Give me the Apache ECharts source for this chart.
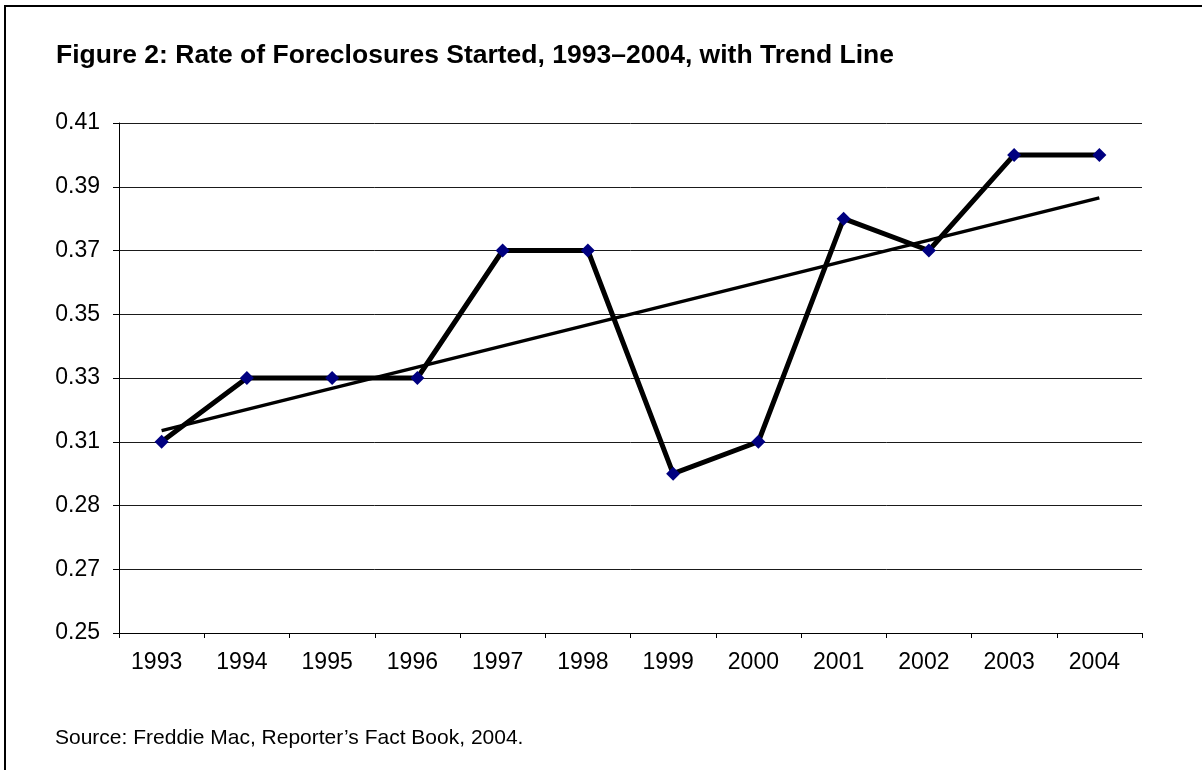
<!DOCTYPE html>
<html>
<head>
<meta charset="utf-8">
<title>Rate of Foreclosures Started, 1993–2004</title>
<script src="https://cdn.jsdelivr.net/npm/echarts@6/dist/echarts.min.js"></script>
<style>
  html, body { margin: 0; padding: 0; background: #ffffff; }
  #chart { width: 1202px; height: 770px; }
</style>
</head>
<body>
<div id="chart"></div>
<script>
// Years on the horizontal axis
const years = ['1993', '1994', '1995', '1996', '1997', '1998', '1999', '2000', '2001', '2002', '2003', '2004'];

// Rate of foreclosures started, per year
const foreclosureRates = [0.31, 0.33, 0.33, 0.33, 0.37, 0.37, 0.30, 0.31, 0.38, 0.37, 0.40, 0.40];

// Linear trend line, first and last year
const trendYears = ['1993', '2004'];
const trendValues = [0.3135, 0.3865];

// Gridline values on the rate scale and the labels printed beside them
const yTickValues = [0.25, 0.27, 0.29, 0.31, 0.33, 0.35, 0.37, 0.39, 0.41];
const yTickLabels = ['0.25', '0.27', '0.28', '0.31', '0.33', '0.35', '0.37', '0.39', '0.41'];

const titleText = 'Figure 2: Rate of Foreclosures Started, 1993–2004, with Trend Line';
const sourceText = 'Source: Freddie Mac, Reporter’s Fact Book, 2004.';

const FONT = 'Arial, "Liberation Sans", Helvetica, sans-serif';

const chart = echarts.init(document.getElementById('chart'), null, { renderer: 'canvas' });

const option = {
  backgroundColor: '#ffffff',
  animation: false,
  title: {
    text: titleText,
    left: 56,
    top: 42,
    padding: 0,
    textStyle: { fontFamily: FONT, fontSize: 26.5, fontWeight: 'bold', color: '#000000' }
  },
  graphic: [
    {
      // frame around the figure
      type: 'rect',
      silent: true,
      shape: { x: 5, y: 6, width: 1400, height: 1000 },
      style: { fill: 'none', stroke: '#000000', lineWidth: 2 }
    },
    {
      type: 'text',
      silent: true,
      left: 55,
      top: 728,
      style: { text: sourceText, font: '21px ' + FONT, fill: '#000000' }
    }
  ],
  grid: { left: 119, right: 60, top: 123, bottom: 137, containLabel: false },
  xAxis: {
    type: 'category',
    data: years,
    boundaryGap: true,
    axisLine: { show: true, lineStyle: { color: '#000000', width: 1 } },
    axisTick: { show: true, alignWithLabel: false, length: 5, lineStyle: { color: '#000000', width: 1 } },
    axisLabel: {
      show: true, interval: 0, margin: 18,
      fontFamily: FONT, fontSize: 23, color: '#000000',
      padding: [0, 10, 0, 0]
    },
    splitLine: { show: false }
  },
  yAxis: [
    {
      // gridline axis: one step per labelled gridline
      type: 'value',
      min: 0,
      max: yTickValues.length - 1,
      interval: 1,
      axisLine: { show: true, lineStyle: { color: '#000000', width: 1 } },
      axisTick: { show: true, inside: false, length: 6, lineStyle: { color: '#000000', width: 1 } },
      axisLabel: {
        show: true, margin: 19,
        fontFamily: FONT, fontSize: 23, color: '#000000',
        formatter: function (v) { return yTickLabels[Math.round(v)]; }
      },
      splitLine: { show: true, lineStyle: { color: '#1a1a1a', width: 1 } }
    },
    {
      // rate scale used by the series
      type: 'value',
      min: yTickValues[0],
      max: yTickValues[yTickValues.length - 1],
      show: false,
      splitLine: { show: false }
    }
  ],
  series: [
    {
      name: 'Trend',
      type: 'line',
      yAxisIndex: 1,
      data: trendYears.map(function (y, i) { return [y, trendValues[i]]; }),
      symbol: 'none',
      lineStyle: { color: '#000000', width: 3.5 },
      z: 2
    },
    {
      name: 'Rate of foreclosures started',
      type: 'line',
      yAxisIndex: 1,
      data: foreclosureRates,
      symbol: 'diamond',
      symbolSize: 14,
      itemStyle: { color: '#000080' },
      lineStyle: { color: '#000000', width: 5 },
      z: 3
    }
  ]
};

chart.setOption(option);
</script>
</body>
</html>
